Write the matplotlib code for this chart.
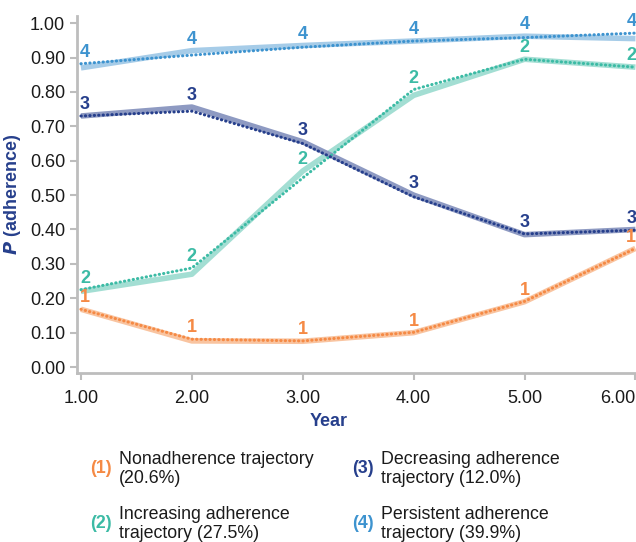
import numpy as np
import matplotlib.pyplot as plt

plt.rcParams['font.family'] = ['Liberation Sans', 'DejaVu Sans']

years = [1, 2, 3, 4, 5, 6]

# observed (solid) and estimated (dotted) adherence per trajectory group
obs1 = [0.168, 0.076, 0.075, 0.100, 0.190, 0.345]
est1 = [0.168, 0.081, 0.076, 0.101, 0.191, 0.345]
obs2 = [0.220, 0.270, 0.570, 0.790, 0.895, 0.872]
est2 = [0.225, 0.288, 0.550, 0.807, 0.895, 0.872]
obs3 = [0.730, 0.756, 0.655, 0.500, 0.385, 0.400]
est3 = [0.730, 0.744, 0.650, 0.495, 0.387, 0.398]
obs4 = [0.870, 0.920, 0.935, 0.948, 0.962, 0.955]
est4 = [0.882, 0.907, 0.930, 0.948, 0.958, 0.971]

labels = ["1", "2", "3", "4"]
legend_text = ["Nonadherence trajectory\n(20.6%)",
               "Increasing adherence\ntrajectory (27.5%)",
               "Decreasing adherence\ntrajectory (12.0%)",
               "Persistent adherence\ntrajectory (39.9%)"]

dark = ["#F58A45", "#3CBBA5", "#263F8C", "#3D93CF"]
light = ["#F9C4A0", "#A3DED3", "#8E9AC2", "#A6CCE8"]

fig = plt.figure(figsize=(6.36, 5.42), dpi=100)
ax = fig.add_axes([0.121, 0.312, 0.879, 0.658])

series = [(obs1, est1), (obs2, est2), (obs3, est3), (obs4, est4)]
for i, (obs, est) in enumerate(series):
    ax.plot(years, obs, color=light[i], lw=4, solid_capstyle='butt', zorder=2)
    ax.plot(years, est, color=dark[i], lw=2.2, linestyle=(0, (0.1, 1.35)),
            dash_capstyle='round', zorder=3)
    for j, x in enumerate(years):
        dx = 3 if j == 0 else (-3 if j == len(years) - 1 else 0)
        ax.annotate(labels[i], (x, max(obs[j], est[j])),
                    xytext=(dx, 2), textcoords='offset points',
                    ha='center', va='bottom', fontsize=13, fontweight='bold',
                    color=dark[i], annotation_clip=False, zorder=4)

ax.set_xlim(0.964, 6.005)
ax.set_ylim(-0.017, 1.02)
ax.set_xticks(years)
ax.set_xticklabels([f"{v:.2f}" for v in years])
ax.get_xticklabels()[-1].set_horizontalalignment('right')
ax.set_yticks(np.arange(0, 1.01, 0.1))
ax.set_yticklabels([f"{v:.2f}" for v in np.arange(0, 1.01, 0.1)])
for s in ['top', 'right']:
    ax.spines[s].set_visible(False)
for s in ['left', 'bottom']:
    ax.spines[s].set_color('#BDBDBD')
    ax.spines[s].set_linewidth(2)
ax.tick_params(colors='#BDBDBD', width=1.5, length=5, labelsize=13,
               labelcolor='#1a1a1a')
ax.tick_params(axis='x', pad=7)
ax.set_ylabel(r"$\mathbfit{P}$ (adherence)", fontsize=13, fontweight='bold',
              color=dark[2], labelpad=5)

fig.text(0.517, 0.222, "Year", ha='center', va='center', fontsize=13,
         fontweight='bold', color=dark[2])

pos = [(0.141, 0.135), (0.141, 0.034), (0.553, 0.135), (0.553, 0.034)]
for i, (px, py) in enumerate(pos):
    fig.text(px, py, f"({labels[i]})", ha='left', va='center', fontsize=12.8,
             fontweight='bold', color=dark[i])
    fig.text(px + 0.046, py, legend_text[i], ha='left', va='center',
             fontsize=12.8, color='#1a1a1a', linespacing=1.15)

fig.savefig("out.png", dpi=100)
